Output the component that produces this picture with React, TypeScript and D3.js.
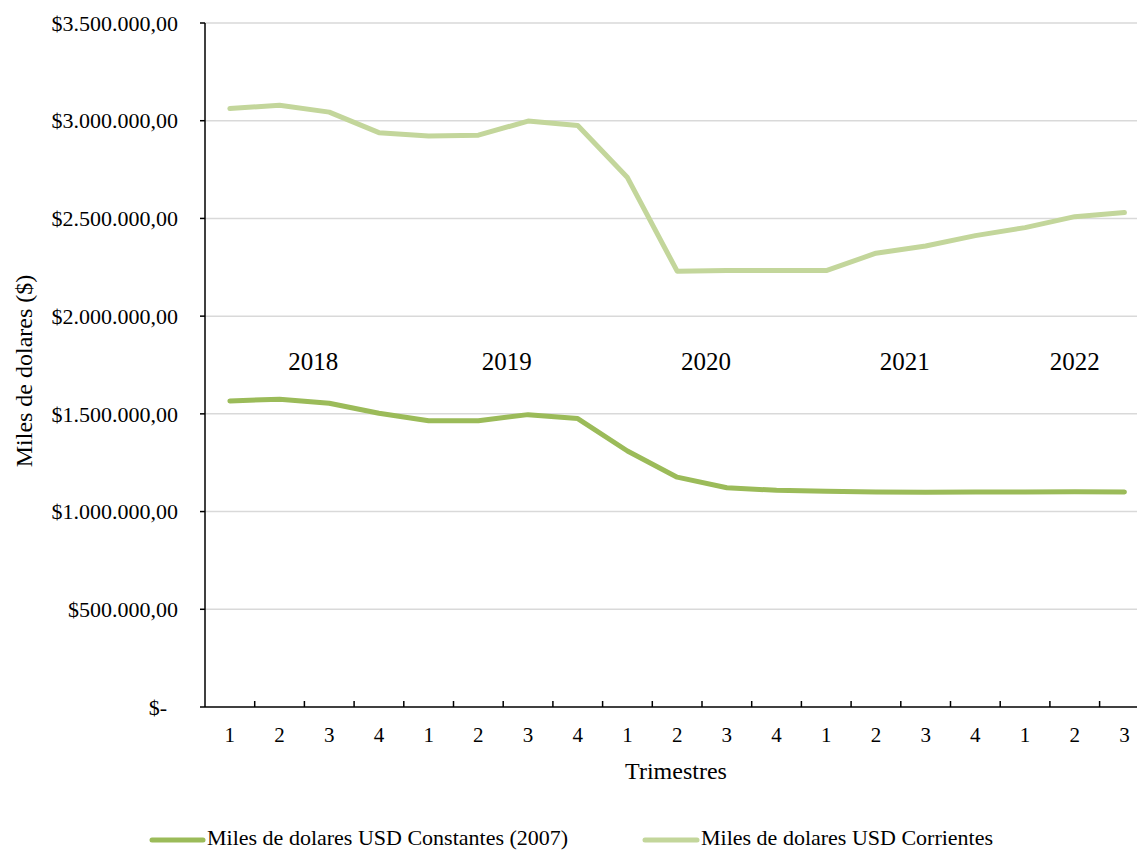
import React from "react";
import * as d3 from "d3";

// Quarterly series, 2018 Q1 – 2022 Q3 (thousands of USD)
const quarters = ["1", "2", "3", "4", "1", "2", "3", "4", "1", "2", "3", "4", "1", "2", "3", "4", "1", "2", "3"];
const constantes = [1566000, 1575000, 1554000, 1503000, 1465000, 1465000, 1496000, 1476000, 1310000, 1176000, 1122000, 1109000, 1104000, 1100000, 1099000, 1100000, 1100000, 1101000, 1100000];
const corrientes = [3062000, 3079000, 3044000, 2939000, 2922000, 2926000, 2998000, 2975000, 2709000, 2230000, 2233000, 2233000, 2233000, 2322000, 2359000, 2412000, 2453000, 2509000, 2530000];
const yTicks = [0, 500000, 1000000, 1500000, 2000000, 2500000, 3000000, 3500000];
// Year captions, placed at fractional quarter positions
const years = ["2018", "2019", "2020", "2021", "2022"];
const yearPos = [1.68, 5.57, 9.58, 13.58, 17.0];
const seriesNames = ["Miles de dolares USD Constantes (2007)", "Miles de dolares USD Corrientes"];

const W = 1137;
const H = 851;
const FONT = "'Liberation Serif', 'Times New Roman', serif";
const DARK = "#9BBB59";
const LIGHT = "#C3D69B";

const locale = d3.formatLocale({ decimal: ",", thousands: ".", grouping: [3], currency: ["$", ""] });
const money = locale.format("$,.2f");

export default function App() {
  const left = 205;
  const bandW = 49.7;
  const x = d3.scaleLinear().domain([-0.5, quarters.length - 0.5]).range([left, left + bandW * quarters.length]);
  const y = d3.scaleLinear().domain([0, 3500000]).range([707, 23]);

  const line = d3
    .line<number>()
    .x((_, i) => x(i))
    .y((d) => y(d));

  const tickBounds = d3.range(1, quarters.length).map((i) => x(i - 0.5));

  return (
    <svg
      width={W}
      height={H}
      style={{ position: "absolute", left: 0, top: 0, display: "block", background: "#fff" }}
      fontFamily={FONT}
    >
      {/* gridlines */}
      {yTicks.slice(1).map((t) => (
        <line key={"g" + t} x1={left} x2={W} y1={y(t)} y2={y(t)} stroke="#D9D9D9" strokeWidth={1.5} />
      ))}

      {/* y axis */}
      <line x1={left} x2={left} y1={y(3500000)} y2={y(0)} stroke="#000" strokeWidth={1.5} />
      {yTicks.map((t) => (
        <g key={"yt" + t}>
          <line x1={left - 5} x2={left} y1={y(t)} y2={y(t)} stroke="#000" strokeWidth={1.5} />
          <text
            x={t === 0 ? 167 : 178}
            y={y(t)}
            dy="0.35em"
            textAnchor="end"
            fontSize={22}
            fill="#000"
          >
            {t === 0 ? "$-" : money(t)}
          </text>
        </g>
      ))}

      {/* x axis */}
      <line x1={left} x2={W} y1={y(0)} y2={y(0)} stroke="#000" strokeWidth={1.5} />
      {tickBounds.map((bx, i) => (
        <line key={"xt" + i} x1={bx} x2={bx} y1={y(0)} y2={y(0) - 6} stroke="#000" strokeWidth={1.5} />
      ))}
      {quarters.map((q, i) => (
        <text key={"xl" + i} x={x(i)} y={742} textAnchor="middle" fontSize={21} fill="#000">
          {q}
        </text>
      ))}

      {/* series */}
      <path d={line(corrientes) || ""} fill="none" stroke={LIGHT} strokeWidth={5} strokeLinecap="round" strokeLinejoin="round" />
      <path d={line(constantes) || ""} fill="none" stroke={DARK} strokeWidth={5} strokeLinecap="round" strokeLinejoin="round" />

      {/* year captions */}
      {years.map((yr, i) => (
        <text key={yr} x={x(yearPos[i])} y={370} textAnchor="middle" fontSize={25} fill="#000">
          {yr}
        </text>
      ))}

      {/* axis titles */}
      <text transform="translate(32,371) rotate(-90)" textAnchor="middle" fontSize={24} fill="#000">
        Miles de dolares ($)
      </text>
      <text x={676} y={779} textAnchor="middle" fontSize={24} fill="#000">
        Trimestres
      </text>

      {/* legend */}
      <line x1={152} x2={203} y1={840} y2={840} stroke={DARK} strokeWidth={5} strokeLinecap="round" />
      <text x={207} y={845} fontSize={22} fill="#000">
        {seriesNames[0]}
      </text>
      <line x1={645} x2={697} y1={840} y2={840} stroke={LIGHT} strokeWidth={5} strokeLinecap="round" />
      <text x={701} y={845} fontSize={22} fill="#000">
        {seriesNames[1]}
      </text>
    </svg>
  );
}
